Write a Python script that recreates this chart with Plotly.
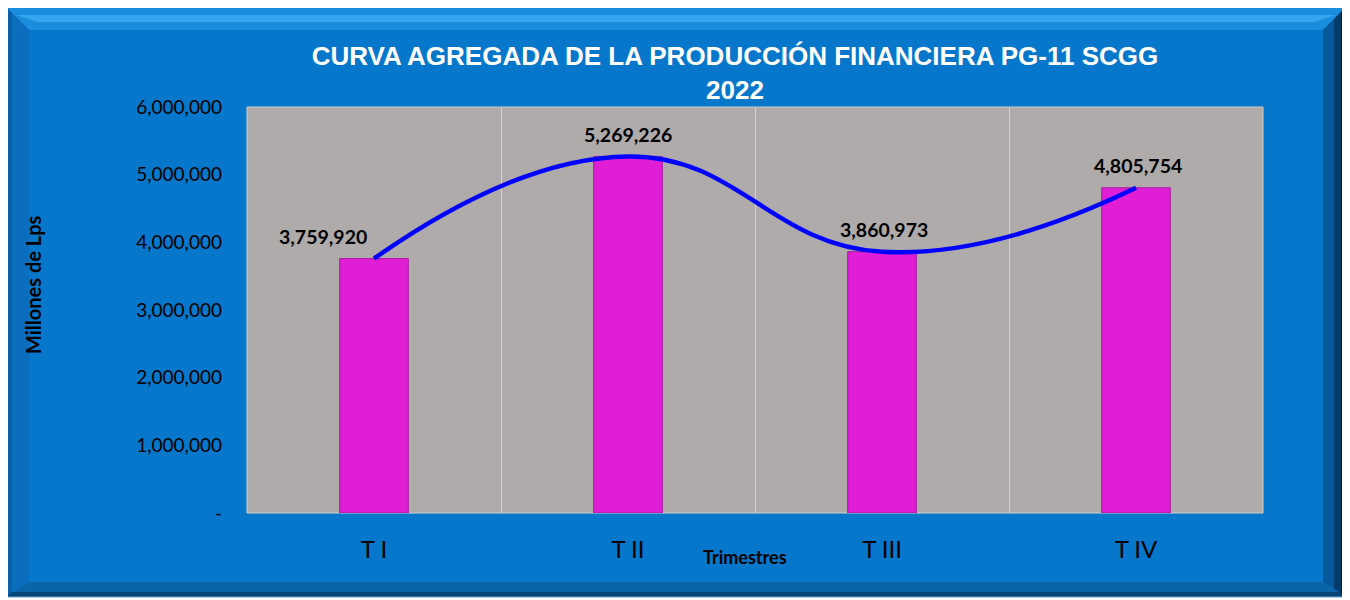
import plotly.graph_objects as go

# ---- data ----
categories = ["T I", "T II", "T III", "T IV"]
values = [3759920, 5269226, 3860973, 4805754]
y_tickvals = [0, 1000000, 2000000, 3000000, 4000000, 5000000, 6000000]
y_ticktext = ["-", "1,000,000", "2,000,000", "3,000,000", "4,000,000", "5,000,000", "6,000,000"]
label_xshift = [-51, 0, 2, 2]

title_text = "CURVA AGREGADA DE LA PRODUCCIÓN FINANCIERA PG-11 SCGG<br>2022"

OFF = 8  # page body margin
W, H = 1350 - OFF, 600 - OFF
# target pixel positions in the screenshot (converted by OFF)
PL, PR, PT, PB = 247, 1263, 107, 513
ML, MR, MT, MB = PL - OFF, W - (PR - OFF), PT - OFF, H - (PB - OFF)
PW, PH = PR - PL, PB - PT


def px(x):
    return (x - PL) / PW


def py(y):
    return (PB - y) / PH


def poly(pts):
    return "M " + " L ".join(f"{px(a):.5f},{py(b):.5f}" for a, b in pts) + " Z"


fig = go.Figure()

fig.add_trace(go.Bar(
    x=categories, y=values, width=0.27,
    marker=dict(color="#E01ED6", line=dict(color="#A8189E", width=1)),
    showlegend=False, hoverinfo="skip",
))
fig.add_trace(go.Scatter(
    x=categories, y=values, mode="lines",
    line=dict(color="#0000FF", width=4.5, shape="spline", smoothing=1.3),
    showlegend=False, hoverinfo="skip",
))

for c, v, dx in zip(categories, values, label_xshift):
    fig.add_annotation(
        x=c, y=v, text=f"<b>{v:,}</b>", showarrow=False,
        yshift=22, xshift=dx, yanchor="middle",
        font=dict(family="Lato", size=19.5, color="#000000"),
    )

# frame (outer blue bevelled panel)
O_L, O_T, O_R, O_B = 6, 7, 1346, 597
I_L, I_T, I_R, I_B = 29, 30, 1323, 582
shapes = []
shapes.append(dict(type="path", xref="paper", yref="paper", layer="below",
                   path=poly([(O_L, O_T), (O_R, O_T), (O_R, O_B), (O_L, O_B)]),
                   fillcolor="#0677CA", line=dict(width=0)))
# top bevel (light)
shapes.append(dict(type="path", xref="paper", yref="paper", layer="below",
                   path=poly([(O_L, O_T), (O_R, O_T), (I_R, I_T), (I_L, I_T)]),
                   fillcolor="#1A8DDD", line=dict(width=0)))
shapes.append(dict(type="path", xref="paper", yref="paper", layer="below",
                   path=poly([(O_L + 10, O_T + 8), (O_R - 10, O_T + 8), (I_R - 8, I_T - 8), (I_L + 8, I_T - 8)]),
                   fillcolor="#36A4EE", line=dict(width=0)))
# left bevel
shapes.append(dict(type="path", xref="paper", yref="paper", layer="below",
                   path=poly([(O_L, O_T), (I_L, I_T), (I_L, I_B), (O_L, O_B)]),
                   fillcolor="#0A6DBD", line=dict(width=0)))
shapes.append(dict(type="path", xref="paper", yref="paper", layer="below",
                   path=poly([(O_L, O_T), (O_L + 6, O_T + 6), (O_L + 6, O_B - 4), (O_L, O_B)]),
                   fillcolor="#0A5FA6", line=dict(width=0)))
# right bevel (dark)
shapes.append(dict(type="path", xref="paper", yref="paper", layer="below",
                   path=poly([(O_R, O_T), (O_R, O_B), (I_R, I_B), (I_R, I_T)]),
                   fillcolor="#05599B", line=dict(width=0)))
shapes.append(dict(type="path", xref="paper", yref="paper", layer="below",
                   path=poly([(O_R, O_T), (O_R, O_B), (O_R - 12, O_B - 9), (O_R - 12, O_T + 12)]),
                   fillcolor="#033C6A", line=dict(width=0)))
shapes.append(dict(type="path", xref="paper", yref="paper", layer="below",
                   path=poly([(O_R, O_T), (O_R, O_B), (O_R - 5, O_B - 4), (O_R - 5, O_T + 5)]),
                   fillcolor="#011C33", line=dict(width=0)))
# bottom bevel
shapes.append(dict(type="path", xref="paper", yref="paper", layer="below",
                   path=poly([(O_L, O_B), (I_L, I_B), (I_R, I_B), (O_R, O_B)]),
                   fillcolor="#0A64A8", line=dict(width=0)))
shapes.append(dict(type="path", xref="paper", yref="paper", layer="below",
                   path=poly([(O_L + 6, O_B - 5), (O_R - 6, O_B - 5), (O_R, O_B), (O_L, O_B)]),
                   fillcolor="#054676", line=dict(width=0)))
# outer thin outline
shapes.append(dict(type="rect", xref="paper", yref="paper", layer="below",
                   x0=px(O_L), x1=px(O_R), y0=py(O_B), y1=py(O_T),
                   fillcolor="rgba(0,0,0,0)", line=dict(color="#6FA3D6", width=1)))
# plot area
shapes.append(dict(type="rect", xref="paper", yref="paper", layer="below",
                   x0=0, x1=1, y0=0, y1=1,
                   fillcolor="#AFABAA", line=dict(color="#CFCDCD", width=1)))

fig.update_layout(
    width=W, height=H,
    margin=dict(l=ML, r=MR, t=MT, b=MB),
    paper_bgcolor="#FFFFFF",
    plot_bgcolor="#AFABAA",
    shapes=shapes,
    title=dict(
        text=title_text, x=(735 - OFF) / W, xanchor="center", y=1 - (65 - OFF) / H, yanchor="middle",
        font=dict(family="Liberation Sans", size=26, color="#FFFFFF", weight="bold"),
    ),
    xaxis=dict(
        type="category", range=[-0.5, 3.5],
        tickson="boundaries", showgrid=True, gridcolor="#D4D2D2", gridwidth=1,
        ticks="", ticklabelstandoff=20,
        tickfont=dict(family="Lato", size=24, color="#000000"),
        showline=False, zeroline=False, fixedrange=True,
    ),
    yaxis=dict(
        range=[0, 6000000], tickvals=y_tickvals, ticktext=y_ticktext,
        showgrid=False, zeroline=False, showline=False, ticks="",
        ticklabelstandoff=24,
        tickfont=dict(family="Lato", size=19, color="#000000"),
        fixedrange=True,
    ),
    annotations=list(fig.layout.annotations) + [
        dict(text="<b>Trimestres</b>", xref="paper", yref="paper",
             x=px(745), y=py(557), showarrow=False, xanchor="center", yanchor="middle",
             font=dict(family="Lato", size=18, color="#000000")),
        dict(text="<b>Millones de Lps</b>", xref="paper", yref="paper",
             x=px(33), y=py(285), showarrow=False, xanchor="center", yanchor="middle",
             textangle=-90, font=dict(family="Lato", size=20, color="#000000")),
    ],
)

fig.write_html("out.html")
